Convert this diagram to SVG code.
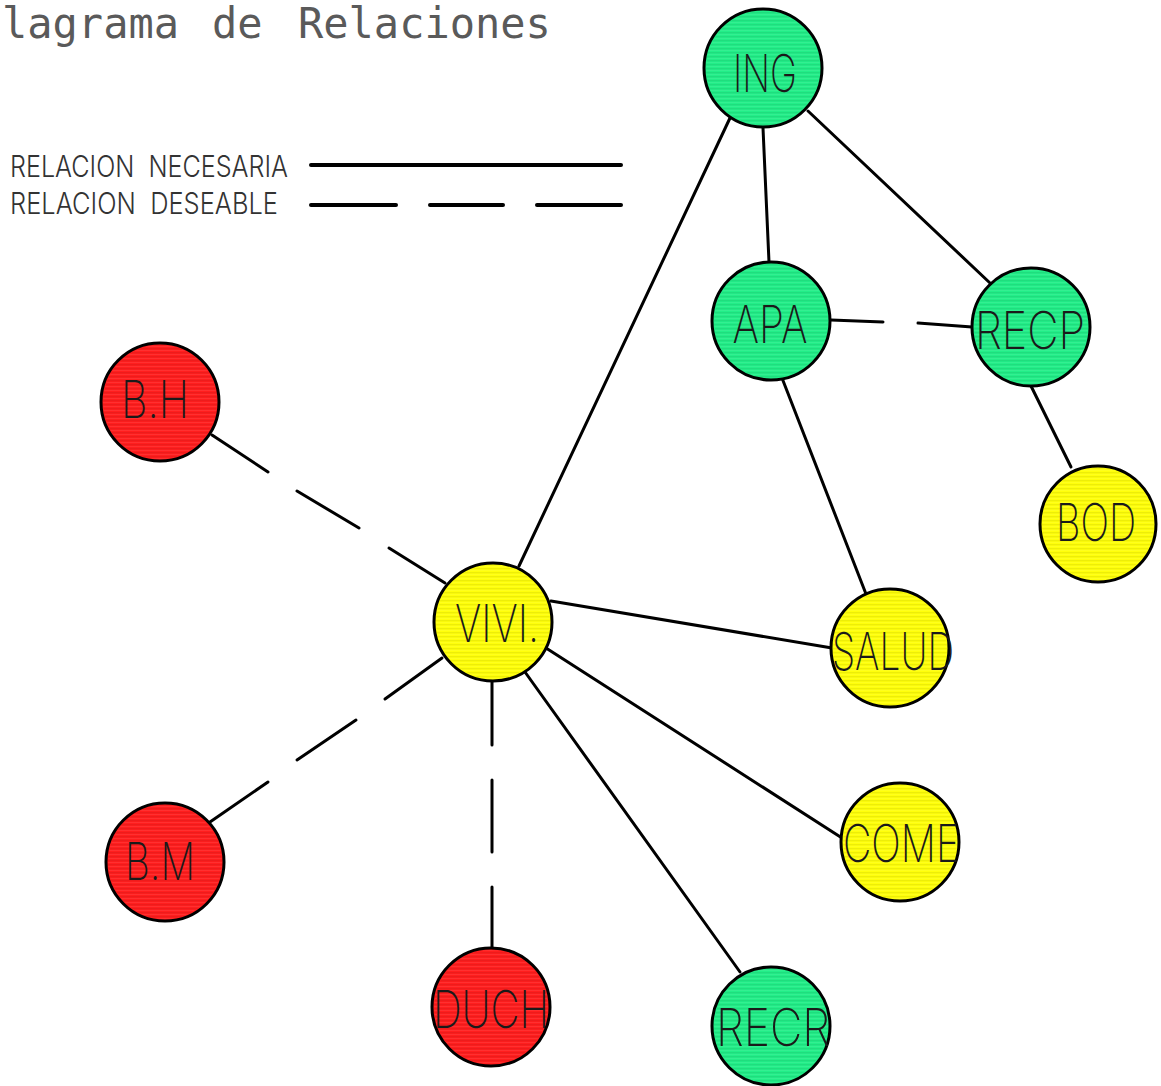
<svg xmlns="http://www.w3.org/2000/svg" width="1161" height="1086" viewBox="0 0 1161 1086">
<defs>
<pattern id="stripes" width="8" height="4" patternUnits="userSpaceOnUse">
<rect x="0" y="0" width="8" height="1.3" fill="#000" fill-opacity="0.07"/>
<rect x="0" y="2" width="8" height="1" fill="#fff" fill-opacity="0.08"/>
</pattern>
<style>
.bg{fill:#fff}
.node circle.c{stroke:#000;stroke-width:3}
.green{fill:#22ee88}
.yellow{fill:#ffff0a}
.red{fill:#ff1e1e}
.tex{fill:url(#stripes);stroke:none}
.lbl{font-family:Inter,"DejaVu Sans","Liberation Sans",sans-serif;font-weight:200;font-size:52px;fill:#1a1a1a;text-anchor:middle}
.conn line{stroke:#000;stroke-width:3;stroke-linecap:round}
.title{font-family:"DejaVu Sans Mono","Liberation Mono",monospace;font-size:42px;font-weight:normal;fill:#5a5a5a}
.leg{font-family:Inter,"DejaVu Sans","Liberation Sans",sans-serif;font-weight:300;font-size:30px;fill:#333;white-space:pre}
.legline{stroke:#000;stroke-width:4;stroke-linecap:round}
</style>
</defs>
<rect class="bg" x="0" y="0" width="1161" height="1086"/>
<text class="title" y="38"><tspan x="2">lagrama</tspan> <tspan x="212">de</tspan> <tspan x="298">Relaciones</tspan></text>
<g id="legend">
<text class="leg" x="10" y="177" textLength="278" lengthAdjust="spacingAndGlyphs" xml:space="preserve">RELACION  NECESARIA</text>
<text class="leg" x="10" y="214" textLength="268" lengthAdjust="spacingAndGlyphs" xml:space="preserve">RELACION  DESEABLE</text>
<line class="legline" x1="311" y1="165" x2="621" y2="165"/>
<line class="legline" x1="311" y1="205" x2="396" y2="205"/>
<line class="legline" x1="430" y1="205" x2="503" y2="205"/>
<line class="legline" x1="537" y1="205" x2="621" y2="205"/>
</g>
<g id="connectors" class="conn">
<line x1="519" y1="566" x2="730" y2="118"/>
<line x1="763" y1="128" x2="769" y2="262"/>
<line x1="808" y1="111" x2="990" y2="283"/>
<line x1="1031" y1="386" x2="1071" y2="467"/>
<line x1="782" y1="378" x2="866" y2="594"/>
<line x1="551" y1="601" x2="832" y2="648"/>
<line x1="546" y1="648" x2="842" y2="838"/>
<line x1="525" y1="672" x2="740" y2="972"/>
<line x1="831" y1="320" x2="883" y2="322"/>
<line x1="918" y1="323" x2="972" y2="327"/>
<line x1="212" y1="435" x2="268" y2="472"/>
<line x1="297" y1="491" x2="359" y2="528"/>
<line x1="389" y1="548" x2="445" y2="583"/>
<line x1="210" y1="822" x2="268" y2="782"/>
<line x1="297" y1="760" x2="356" y2="720"/>
<line x1="385" y1="699" x2="442" y2="658"/>
<line x1="492" y1="681" x2="492" y2="745"/>
<line x1="492" y1="780" x2="492" y2="852"/>
<line x1="492" y1="887" x2="492" y2="948"/>
</g>
<g id="ING" class="node"><circle class="c green" cx="763" cy="68" r="59"/><circle class="tex" cx="763" cy="68" r="57"/><text class="lbl" x="765" y="92" textLength="64" lengthAdjust="spacingAndGlyphs">ING</text></g>
<g id="APA" class="node"><circle class="c green" cx="771" cy="321" r="59"/><circle class="tex" cx="771" cy="321" r="57"/><text class="lbl" x="770" y="343" textLength="75" lengthAdjust="spacingAndGlyphs">APA</text></g>
<g id="RECP" class="node"><circle class="c green" cx="1031" cy="327" r="59"/><circle class="tex" cx="1031" cy="327" r="57"/><text class="lbl" x="1030" y="349" textLength="110" lengthAdjust="spacingAndGlyphs">RECP</text></g>
<g id="BOD" class="node"><circle class="c yellow" cx="1098" cy="524" r="58"/><circle class="tex" cx="1098" cy="524" r="56"/><text class="lbl" x="1096" y="541" textLength="80" lengthAdjust="spacingAndGlyphs">BOD</text></g>
<g id="BH" class="node"><circle class="c red" cx="160" cy="402" r="59"/><circle class="tex" cx="160" cy="402" r="57"/><text class="lbl" x="155" y="418" textLength="68" lengthAdjust="spacingAndGlyphs">B.H</text></g>
<g id="VIVI" class="node"><circle class="c yellow" cx="493" cy="622" r="59"/><circle class="tex" cx="493" cy="622" r="57"/><text class="lbl" x="497" y="642" textLength="84" lengthAdjust="spacingAndGlyphs">VIVI.</text></g>
<g id="SALUD" class="node"><circle class="c yellow" cx="890" cy="648" r="59"/><circle class="tex" cx="890" cy="648" r="57"/><text class="lbl" x="893" y="670" textLength="122" lengthAdjust="spacingAndGlyphs">SALUD</text></g>
<g id="BM" class="node"><circle class="c red" cx="165" cy="862" r="59"/><circle class="tex" cx="165" cy="862" r="57"/><text class="lbl" x="160" y="880" textLength="70" lengthAdjust="spacingAndGlyphs">B.M</text></g>
<g id="COME" class="node"><circle class="c yellow" cx="900" cy="842" r="59"/><circle class="tex" cx="900" cy="842" r="57"/><text class="lbl" x="901" y="862" textLength="116" lengthAdjust="spacingAndGlyphs">COME</text></g>
<g id="DUCH" class="node"><circle class="c red" cx="491" cy="1007" r="59"/><circle class="tex" cx="491" cy="1007" r="57"/><text class="lbl" x="491" y="1028" textLength="116" lengthAdjust="spacingAndGlyphs">DUCH</text></g>
<g id="RECR" class="node"><circle class="c green" cx="771" cy="1026" r="59"/><circle class="tex" cx="771" cy="1026" r="57"/><text class="lbl" x="773" y="1046" textLength="114" lengthAdjust="spacingAndGlyphs">RECR</text></g>
</svg>
